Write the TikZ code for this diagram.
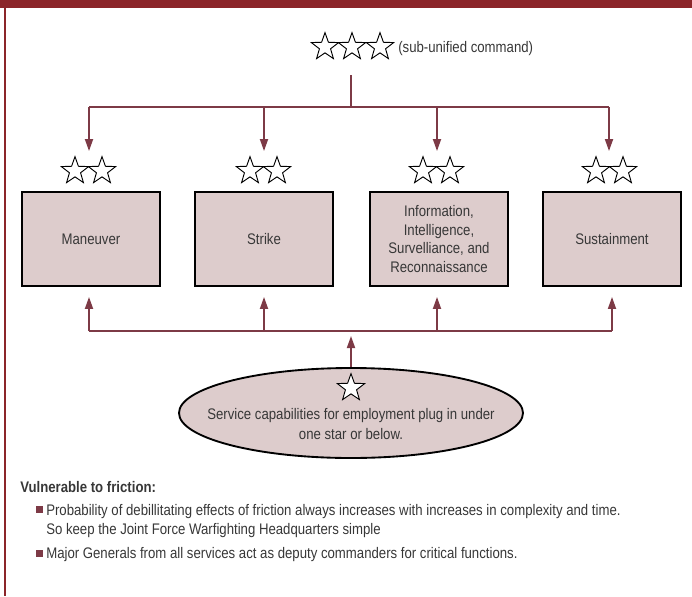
\documentclass[tikz,border=0pt]{standalone}
\usepackage{fontspec}
\setmainfont[FakeStretch=0.86]{Liberation Sans}
\usetikzlibrary{shapes.geometric,arrows.meta,positioning}

\definecolor{jfbar}{RGB}{139,37,41}
\definecolor{jfline}{RGB}{125,58,70}
\definecolor{jffill}{RGB}{221,204,204}
\definecolor{jftext}{RGB}{55,55,55}

\tikzset{
  rankstar/.style={star, star points=5, star point ratio=2.45, draw=black, line width=0.7pt, fill=white, minimum size=21.5pt, inner sep=0pt},
  cellbox/.style={draw=black, line width=1.4pt, fill=jffill, minimum width=103.5pt, minimum height=70.5pt, align=center, text=jftext, font=\fontsize{11.5}{13.9}\selectfont},
  wire/.style={draw=jfline, line width=1.3pt},
  link/.style={wire, -{Triangle[length=9pt,width=6pt]}},
  note/.style={text=jftext, font=\fontsize{11.5}{14.3}\selectfont, inner sep=0pt}
}

\begin{document}
\begin{tikzpicture}[x=0.75pt,y=0.75pt,yscale=-1,xscale=1]
\useasboundingbox (0,0) rectangle (692,596);

% frame
\fill [jfbar] (0,0) rectangle (692,8);
\draw [jfbar, line width=0.8pt] (5,8) -- (5,596);

% top command
\node [rankstar] (top1) at (325,47) {};
\node [rankstar] (top2) at (352,47) {};
\node [rankstar] (top3) at (380,47) {};
\node [note, anchor=west] (toplbl) at (398,49) {(sub-unified command)};
\coordinate (hq) at (351,75);
\coordinate (hqbus) at (351,107);

% functional boxes
\node [cellbox] (man) at (91,239) {Maneuver};
\node [cellbox] (str) at (264,239) {Strike};
\node [cellbox] (isr) at (439,239) {Information,\\Intelligence,\\Survelliance, and\\Reconnaissance};
\node [cellbox] (sus) at (612,239) {Sustainment};

% two stars over each box
\node [rankstar] (man-s1) at (75,171) {};
\node [rankstar] (man-s2) at (102,171) {};
\node [rankstar] (str-s1) at (250,171) {};
\node [rankstar] (str-s2) at (277,171) {};
\node [rankstar] (isr-s1) at (423,171) {};
\node [rankstar] (isr-s2) at (450,171) {};
\node [rankstar] (sus-s1) at (596,171) {};
\node [rankstar] (sus-s2) at (623,171) {};

\coordinate (man-in) at ([yshift=-30pt]man.north -| 89,0);
\coordinate (str-in) at ([yshift=-30pt]str.north);
\coordinate (isr-in) at ([yshift=-30pt]isr.north -| 437,0);
\coordinate (sus-in) at ([yshift=-30pt]sus.north -| 609,0);

\coordinate (man-out) at ([yshift=7.5pt]man.south -| 89,0);
\coordinate (str-out) at ([yshift=7.5pt]str.south);
\coordinate (isr-out) at ([yshift=7.5pt]isr.south -| 437,0);
\coordinate (sus-out) at ([yshift=7.5pt]sus.south -| 612,0);
\coordinate (svcbus) at (351,331);

% service ellipse
\node [ellipse, draw=black, line width=1.4pt, fill=jffill, minimum width=258pt, minimum height=67.5pt, inner sep=0pt] (svc) at (351,413) {};
\node [rankstar] (svc-s) at (351,388) {};
\node [note, align=center, font=\fontsize{11.5}{15}\selectfont] (svctxt) at (351,424) {Service capabilities for employment plug in under\\one star or below.};

% connectors, top
\draw [wire] (hq) -- (hqbus);
\draw [wire] (man-in |- hqbus) -- (sus-in |- hqbus);
\draw [link] (man-in |- hqbus) -- (man-in);
\draw [link] (str-in |- hqbus) -- (str-in);
\draw [link] (isr-in |- hqbus) -- (isr-in);
\draw [link] (sus-in |- hqbus) -- (sus-in);

% connectors, bottom
\draw [wire] (man-out |- svcbus) -- (sus-out |- svcbus);
\draw [link] (man-out |- svcbus) -- (man-out);
\draw [link] (str-out |- svcbus) -- (str-out);
\draw [link] (isr-out |- svcbus) -- (isr-out);
\draw [link] (sus-out |- svcbus) -- (sus-out);
\draw [link] (svc.north) -- ([yshift=3.75pt]svcbus);

% notes
\node [note, anchor=base west, font=\bfseries\fontsize{11.5}{14.3}\selectfont] (vuln) at (20,492) {Vulnerable to friction:};
\fill [jfline] (36,506) rectangle (43,513);
\node [note, anchor=base west] (pt1) at (46,515) {Probability of debillitating effects of friction always increases with increases in complexity and time.};
\node [note, anchor=base west] (pt1b) at (46,534) {So keep the Joint Force Warfighting Headquarters simple};
\fill [jfline] (36,550) rectangle (43,557);
\node [note, anchor=base west] (pt2) at (46,558) {Major Generals from all services act as deputy commanders for critical functions.};

\end{tikzpicture}
\end{document}
